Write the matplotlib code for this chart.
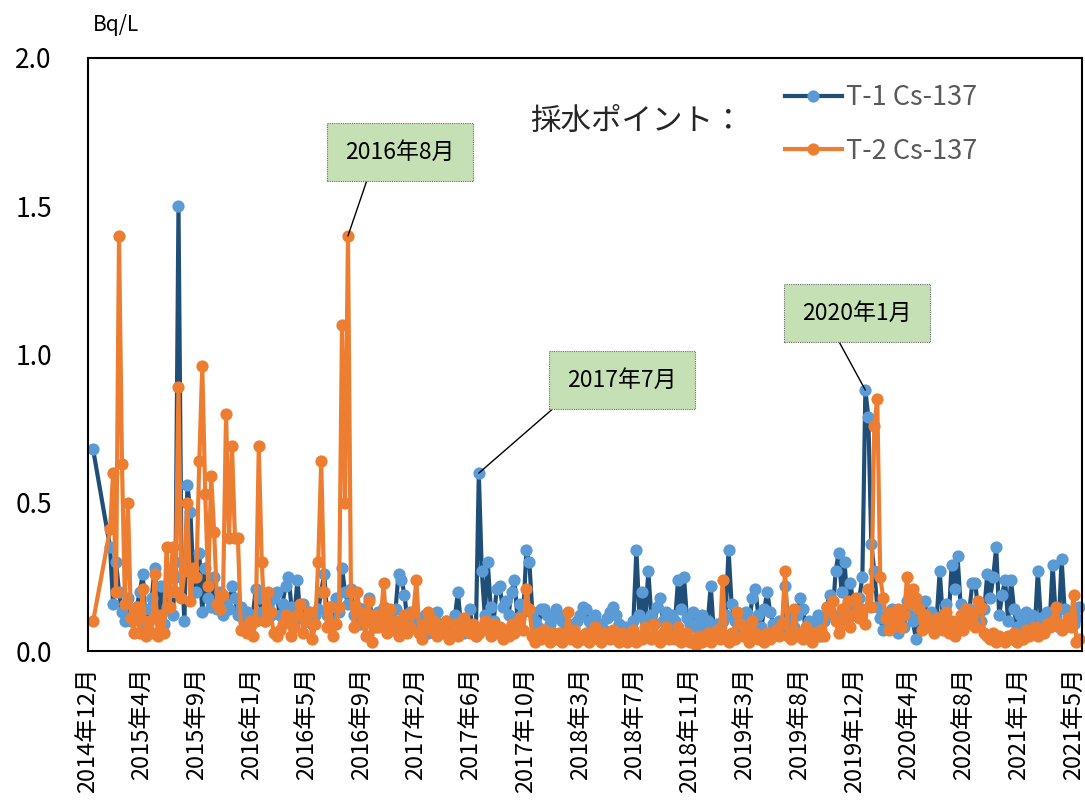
import numpy as np
import pandas as pd
import matplotlib
matplotlib.use('Agg')
import matplotlib.pyplot as plt

plt.rcParams['font.family'] = ['Noto Sans CJK JP', 'DejaVu Sans']

# first sample of both points, then weekly sampling
first_date = '2014-12-30'
weekly_start = '2015-02-08'
t1_first = 0.68
t2_first = 0.10

# T-1 Cs-137 (Bq/L), weekly
t1_vals = [
    0.35, 0.16, 0.30, 0.20, 0.13, 0.10, 0.18, 0.10, 0.12, 0.15,
    0.20, 0.26, 0.09, 0.14, 0.18, 0.28, 0.12, 0.22, 0.09, 0.15,
    0.20, 0.12, 0.25, 1.50, 0.30, 0.10, 0.56, 0.47, 0.25, 0.20,
    0.33, 0.13, 0.28, 0.18, 0.15, 0.25, 0.14, 0.20, 0.12, 0.16,
    0.14, 0.22, 0.18, 0.12, 0.15, 0.10, 0.13, 0.08, 0.12, 0.21,
    0.18, 0.13, 0.10, 0.15, 0.12, 0.18, 0.20, 0.12, 0.16, 0.22,
    0.25, 0.15, 0.12, 0.24, 0.11, 0.16, 0.10, 0.13, 0.09, 0.12,
    0.14, 0.20, 0.26, 0.12, 0.15, 0.10, 0.18, 0.13, 0.28, 0.20,
    0.16, 0.21, 0.12, 0.15, 0.09, 0.14, 0.10, 0.18, 0.12, 0.08,
    0.13, 0.10, 0.15, 0.07, 0.12, 0.09, 0.14, 0.26, 0.24, 0.19,
    0.10, 0.13, 0.08, 0.11, 0.07, 0.10, 0.12, 0.06, 0.09, 0.11,
    0.13, 0.08, 0.06, 0.10, 0.07, 0.09, 0.12, 0.20, 0.08, 0.06,
    0.08, 0.14, 0.07, 0.05, 0.60, 0.27, 0.12, 0.30, 0.15, 0.10,
    0.21, 0.22, 0.15, 0.17, 0.12, 0.20, 0.24, 0.11, 0.16, 0.13,
    0.34, 0.30, 0.13, 0.10, 0.08, 0.14, 0.14, 0.12, 0.09, 0.11,
    0.14, 0.12, 0.10, 0.07, 0.09, 0.05, 0.08, 0.10, 0.12, 0.15,
    0.14, 0.10, 0.08, 0.12, 0.06, 0.09, 0.07, 0.11, 0.13, 0.15,
    0.12, 0.09, 0.06, 0.08, 0.05, 0.07, 0.10, 0.34, 0.12, 0.20,
    0.10, 0.27, 0.12, 0.09, 0.15, 0.18, 0.10, 0.13, 0.08, 0.12,
    0.10, 0.24, 0.14, 0.25, 0.11, 0.09, 0.13, 0.08, 0.10, 0.12,
    0.08, 0.10, 0.22, 0.07, 0.09, 0.06, 0.10, 0.12, 0.34, 0.16,
    0.10, 0.07, 0.12, 0.09, 0.13, 0.10, 0.18, 0.21, 0.12, 0.08,
    0.14, 0.20, 0.13, 0.09, 0.06, 0.10, 0.08, 0.22, 0.10, 0.13,
    0.08, 0.12, 0.18, 0.14, 0.07, 0.10, 0.06, 0.09, 0.12, 0.05,
    0.10, 0.15, 0.19, 0.12, 0.27, 0.33, 0.20, 0.30, 0.16, 0.23,
    0.15, 0.12, 0.18, 0.25, 0.88, 0.79, 0.36, 0.27, 0.15, 0.11,
    0.07, 0.12, 0.09, 0.14, 0.10, 0.06, 0.13, 0.08, 0.17, 0.12,
    0.10, 0.04, 0.15, 0.12, 0.17, 0.09, 0.13, 0.08, 0.11, 0.27,
    0.12, 0.16, 0.10, 0.29, 0.21, 0.32, 0.16, 0.12, 0.09, 0.14,
    0.23, 0.23, 0.12, 0.10, 0.14, 0.26, 0.18, 0.25, 0.35, 0.12,
    0.19, 0.24, 0.10, 0.24, 0.14, 0.08, 0.12, 0.10, 0.13, 0.09,
    0.12, 0.08, 0.27, 0.11, 0.09, 0.13, 0.10, 0.29, 0.12, 0.08,
    0.31, 0.14, 0.10, 0.12, 0.09, 0.11, 0.15,
]

# T-2 Cs-137 (Bq/L), weekly
t2_vals = [
    0.41, 0.60, 0.20, 1.40, 0.63, 0.16, 0.50, 0.11, 0.06, 0.15,
    0.06, 0.21, 0.05, 0.10, 0.06, 0.26, 0.05, 0.12, 0.06, 0.35,
    0.15, 0.35, 0.20, 0.89, 0.18, 0.27, 0.50, 0.17, 0.28, 0.25,
    0.64, 0.96, 0.53, 0.22, 0.59, 0.40, 0.16, 0.14, 0.19, 0.80,
    0.38, 0.69, 0.38, 0.38, 0.07, 0.08, 0.06, 0.10, 0.05, 0.10,
    0.69, 0.30, 0.10, 0.20, 0.13, 0.06, 0.05, 0.07, 0.09, 0.12,
    0.10, 0.05, 0.08, 0.12, 0.16, 0.06, 0.10, 0.13, 0.04, 0.09,
    0.30, 0.64, 0.20, 0.08, 0.15, 0.05, 0.09, 0.15, 1.10, 0.50,
    1.40, 0.20, 0.08, 0.20, 0.13, 0.10, 0.05, 0.17, 0.03, 0.12,
    0.08, 0.10, 0.23, 0.06, 0.14, 0.07, 0.10, 0.05, 0.09, 0.12,
    0.06, 0.08, 0.13, 0.24, 0.06, 0.04, 0.09, 0.13, 0.07, 0.10,
    0.05, 0.08, 0.07, 0.10, 0.04, 0.06, 0.09, 0.05, 0.08, 0.11,
    0.07, 0.06, 0.09, 0.05, 0.06, 0.08, 0.10, 0.07, 0.05, 0.09,
    0.06, 0.08, 0.04, 0.07, 0.05, 0.09, 0.06, 0.08, 0.11, 0.07,
    0.21, 0.14, 0.05, 0.03, 0.06, 0.04, 0.07, 0.05, 0.03, 0.06,
    0.04, 0.06, 0.03, 0.05, 0.13, 0.04, 0.07, 0.03, 0.05, 0.04,
    0.06, 0.03, 0.05, 0.08, 0.04, 0.03, 0.06, 0.05, 0.04, 0.07,
    0.05, 0.03, 0.06, 0.04, 0.03, 0.05, 0.07, 0.03, 0.05, 0.04,
    0.08, 0.05, 0.04, 0.09, 0.05, 0.03, 0.06, 0.08, 0.04, 0.05,
    0.04, 0.08, 0.03, 0.05, 0.06, 0.03, 0.04, 0.02, 0.05, 0.03,
    0.04, 0.06, 0.03, 0.05, 0.07, 0.04, 0.24, 0.05, 0.03, 0.06,
    0.04, 0.13, 0.09, 0.05, 0.07, 0.03, 0.10, 0.06, 0.04, 0.05,
    0.03, 0.06, 0.04, 0.05, 0.07, 0.05, 0.09, 0.27, 0.05, 0.04,
    0.14, 0.05, 0.06, 0.04, 0.08, 0.05, 0.03, 0.06, 0.05, 0.07,
    0.05, 0.15, 0.13, 0.17, 0.10, 0.06, 0.14, 0.09, 0.17, 0.08,
    0.12, 0.18, 0.11, 0.14, 0.09, 0.21, 0.15, 0.76, 0.85, 0.25,
    0.18, 0.11, 0.07, 0.13, 0.09, 0.14, 0.08, 0.12, 0.25, 0.16,
    0.21, 0.18, 0.14, 0.07, 0.12, 0.08, 0.10, 0.06, 0.11, 0.09,
    0.07, 0.13, 0.06, 0.10, 0.05, 0.09, 0.12, 0.07, 0.14, 0.10,
    0.13, 0.08, 0.17, 0.15, 0.06, 0.05, 0.04, 0.06, 0.03, 0.05,
    0.04, 0.03, 0.05, 0.04, 0.06, 0.03, 0.05, 0.04, 0.07, 0.05,
    0.06, 0.08, 0.05, 0.07, 0.06, 0.09, 0.08, 0.10, 0.15, 0.09,
    0.07, 0.09, 0.11, 0.08, 0.19, 0.03, 0.04,
]

series_labels = ['T-1 Cs-137', 'T-2 Cs-137']
tick_labels = ['2014年12月', '2015年4月', '2015年9月', '2016年1月', '2016年5月',
               '2016年9月', '2017年2月', '2017年6月', '2017年10月', '2018年3月',
               '2018年7月', '2018年11月', '2019年3月', '2019年8月', '2019年12月',
               '2020年4月', '2020年8月', '2021年1月', '2021年5月']
# (label, series, index of the sample)
callouts = [('2016年8月', 1, 80), ('2017年7月', 0, 124), ('2020年1月', 0, 254)]

weeks1 = pd.date_range(weekly_start, periods=len(t1_vals), freq='7D')
weeks2 = pd.date_range(weekly_start, periods=len(t2_vals), freq='7D')
x1 = [pd.Timestamp(first_date)] + list(weeks1)
x2 = [pd.Timestamp(first_date)] + list(weeks2)
y1 = [t1_first] + t1_vals
y2 = [t2_first] + t2_vals

fig = plt.figure(figsize=(10.85, 8.0), dpi=100)
ax = fig.add_axes([88 / 1085, 1 - 651 / 800, (1082 - 88) / 1085, (651 - 58) / 800])

ax.plot(x1, y1, color='#1F4E79', lw=3.0, marker='o', ms=8.8,
        mfc='#5B9BD5', mec='#5B9BD5', mew=0, label=series_labels[0], clip_on=False)
ax.plot(x2, y2, color='#ED7D31', lw=3.0, marker='o', ms=8.8,
        mfc='#ED7D31', mec='#ED7D31', mew=0, label=series_labels[1], clip_on=False)

# date axis, labels every 129 days
x0 = pd.Timestamp('2014-12-18')
ticks = [x0 + pd.Timedelta(days=129 * k) for k in range(len(tick_labels))]
ax.set_xlim(x0, x0 + pd.Timedelta(days=2340))
ax.set_xticks(ticks)
ax.set_xticklabels(tick_labels, rotation=90, fontsize=17, va='top')
ax.tick_params(axis='x', length=0, pad=12)

ax.set_ylim(0, 2.0)
ax.set_yticks([0, 0.5, 1.0, 1.5, 2.0])
ax.set_yticklabels(['0.0', '0.5', '1.0', '1.5', '2.0'], fontsize=19)
ax.tick_params(axis='y', length=0, pad=26)

for s in ax.spines.values():
    s.set_linewidth(1.5)
    s.set_color('black')

fig.text(93 / 1085, 1 - 25 / 800, 'Bq/L', fontsize=15, va='center', ha='left')
fig.text(530 / 1085, 1 - 121 / 800, '採水ポイント：', fontsize=22, va='center',
         ha='left', color='#262626')

leg = ax.legend(loc='upper left', bbox_to_anchor=(785 / 1085, 1 - 84 / 800),
                bbox_transform=fig.transFigure, frameon=False, fontsize=19.5,
                handlelength=2.1, handletextpad=0.15, labelspacing=0.98,
                borderpad=0, borderaxespad=0)
for t in leg.get_texts():
    t.set_color('#595959')

# callout boxes (centre of box in figure pixels, start of leader as box fraction)
box_pos = [((400, 152), (0.25, 0.0)), ((622, 380), (0.05, 0.0)), ((857, 313), (0.25, 0.0))]
for (text, s, idx), ((bx, by), rel) in zip(callouts, box_pos):
    xs = x2 if s == 1 else x1
    ys = y2 if s == 1 else y1
    ax.annotate(text, xy=(xs[idx + 1], ys[idx + 1]), xycoords='data',
                xytext=(bx / 1085, 1 - by / 800), textcoords='figure fraction',
                ha='center', va='center', fontsize=16.5,
                bbox=dict(boxstyle='square,pad=0.78', fc='#C5E0B4', ec='#6B6B6B',
                          lw=0.8, ls=(0, (1, 1))),
                arrowprops=dict(arrowstyle='-', color='black', lw=1.0,
                                relpos=rel, shrinkA=0, shrinkB=0))

fig.savefig('out.png', dpi=100)
